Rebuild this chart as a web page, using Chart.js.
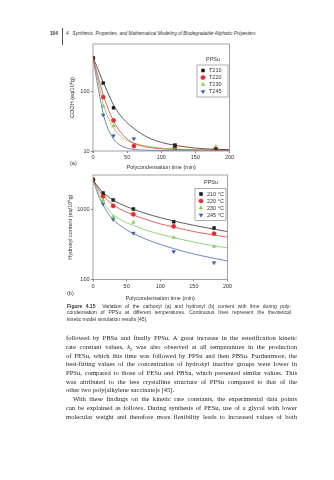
<!DOCTYPE html>
<html>
<head>
<meta charset="utf-8">
<script src="https://cdn.jsdelivr.net/npm/chart.js@4.4.0/dist/chart.umd.min.js"></script>
<style>
body { margin: 0; width: 334px; height: 480px; background: #fff; position: relative; overflow: hidden; font-family: "Liberation Sans", Arial, sans-serif; color: #222; }
.abs { position: absolute; }
.hdr { font-size: 4.7px; line-height: 6px; top: 31px; white-space: nowrap; color: #333; }
.cap { left: 67px; top: 302.6px; width: 224px; font-size: 5px; line-height: 6.7px; color: #333; }
.cap div, .body div { white-space: nowrap; text-align: justify; text-align-last: justify; }
.cap div.last, .body div.last { text-align-last: left; }
.body { left: 66px; top: 334.2px; width: 231px; font-family: "Liberation Serif", "DejaVu Serif", serif; font-size: 6.6px; line-height: 8.7px; color: #222; }
.body div.ind { text-indent: 7px; }
.lab { font-size: 5.5px; color: #333; }
canvas { position: absolute; }
</style>
</head>
<body>

<div class="abs hdr" style="left:50px;font-weight:bold;">104</div>
<div class="abs" style="left:62px;top:28px;width:0.7px;height:17px;background:#555;"></div>
<div class="abs hdr" style="left:66px;font-style:italic;">4&nbsp;&nbsp;&nbsp;Synthesis, Properties, and Mathematical Modeling of Biodegradable Aliphatic Polyesters</div>

<canvas id="chartA" width="170" height="135" style="left:69px;top:38px;"></canvas>
<div class="abs lab" style="left:70px;top:160px;">(a)</div>

<canvas id="chartB" width="170" height="135" style="left:67px;top:168.7px;"></canvas>
<div class="abs lab" style="left:67px;top:290px;">(b)</div>

<div class="abs cap">
  <div><b>Figure 4.15</b>&nbsp;&nbsp;Variation of the carboxyl (a) and hydroxyl (b) content with time during poly-</div>
  <div>condensation of PPSu at different temperatures. Continuous lines represent the theoretical</div>
  <div class="last">kinetic model simulation results [45].</div>
</div>

<div class="abs body">
  <div>followed by PBSu and finally PPSu. A great increase in the esterification kinetic</div>
  <div>rate constant values, <i>k</i><sub style="font-size:4.5px;line-height:0">2</sub> was also observed at all temperatures in the production</div>
  <div>of PESu, which this time was followed by PPSu and then PBSu. Furthermore, the</div>
  <div>best-fitting values of the concentration of hydroxyl inactive groups were lower in</div>
  <div>PPSu, compared to those of PESu and PBSu, which presented similar values. This</div>
  <div>was attributed to the less crystalline structure of PPSu compared to that of the</div>
  <div class="last">other two poly(alkylene succinate)s [45].</div>
  <div class="ind">With these findings on the kinetic rate constants, the experimental data points</div>
  <div>can be explained as follows. During synthesis of PESu, use of a glycol with lower</div>
  <div>molecular weight and therefore more flexibility leads to increased values of both</div>
</div>

<script>
// Times (min) for the model curves and for the measured points
const tCurve = [0, 5, 10, 15, 20, 30, 40, 50, 60, 80, 100, 120, 150, 180, 200];
const tPoints = [0, 15, 30, 60, 120, 180];

// (a) carboxyl content, eq/10^6 g
const curveA210 = [374, 280, 200, 145, 107, 60, 40, 30, 24, 17, 14, 12.5, 11.2, 10.7, 10.5];
const curveA220 = [374, 230, 140, 88, 60, 32, 21, 16, 13.5, 11.6, 10.9, 10.6, 10.4, 10.3, 10.3];
const curveA230 = [374, 205, 112, 63, 42, 25, 18, 15, 13.5, 12, 11.2, 10.8, 10.5, 10.4, 10.3];
const curveA245 = [374, 170, 82, 43, 27, 16, 12.5, 11.2, 10.6, 10.3, 10.2, 10.1, 10.05, 10, 10];
const pointsA210 = [370, 140, 53.7, null, 12.4, 10.5];
const pointsA220 = [370, 81, 32.9, 12.1, 11.4, 10.8];
const pointsA230 = [370, 57, 26.4, null, 11.8, 11.8];
const pointsA245 = [370, 40.5, 18.1, 16.1, 12.8, 10.3];

// (b) hydroxyl content, eq/10^6 g
const curveB210 = [2640, 2250, 1950, 1730, 1580, 1350, 1200, 1090, 1000, 860, 760, 680, 590, 520, 480];
const curveB220 = [2640, 2150, 1800, 1560, 1390, 1160, 1010, 910, 830, 710, 620, 560, 480, 430, 400];
const curveB230 = [2640, 2000, 1600, 1260, 1080, 830, 720, 640, 590, 500, 440, 395, 340, 300, 282];
const curveB245 = [2640, 1900, 1420, 1150, 940, 710, 590, 510, 450, 370, 315, 275, 230, 200, 183];
const pointsB210 = [2640, 1700, 1360, 1010, 665, 540];
const pointsB220 = [2640, 1537, 1116, 847, 570, 448];
const pointsB230 = [2640, 1350, 785, 650, 396, 294];
const pointsB245 = [2640, 1193, 718, 457, 249, 173];

// Axis ticks
const xTicks = [0, 50, 100, 150, 200];
const yTicksA = [10, 100];
const yTicksB = [100, 1000];

const labelsA = ['T210', 'T220', 'T230', 'T245'];
const labelsB = ['210 °C', '220 °C', '230 °C', '245 °C'];

const colors = ['#1a1a1a', '#e5262c', '#86cf5e', '#3c5cab'];
const lineColors = ['#333333', '#e23a3a', '#7cc85a', '#4a68b5'];
const markers = [
    { style: 'rect', rot: 0 },
    { style: 'circle', rot: 0 },
    { style: 'triangle', rot: 0 },
    { style: 'triangle', rot: 180 }
];

function pairs(xs, ys) {
    return xs.map((x, i) => ({ x: x, y: ys[i] })).filter(p => p.y !== null);
}

// frame around the plot area
const framePlugin = {
    id: 'frame',
    afterDraw(chart) {
        const a = chart.chartArea;
        const ctx = chart.ctx;
        ctx.save();
        ctx.strokeStyle = '#8a8a8a';
        ctx.lineWidth = 0.8;
        ctx.strokeRect(a.left, a.top, a.right - a.left, a.bottom - a.top);
        ctx.restore();
    }
};

// boxed legend inside the plot, with the "PPSu" heading
const boxLegend = {
    id: 'boxLegend',
    afterDatasetsDraw(chart, args, opts) {
        const a = chart.chartArea;
        const ctx = chart.ctx;
        const w = 31, step = 7;
        const left = a.right - 1.5 - w;
        const top = a.top + opts.offset;
        ctx.save();
        ctx.font = '5.5px "Liberation Sans", Arial, sans-serif';
        ctx.fillStyle = '#333';
        ctx.textBaseline = 'middle';
        ctx.fillText(opts.title, left + 9, top - 6);
        ctx.strokeStyle = '#777';
        ctx.lineWidth = 0.6;
        ctx.strokeRect(left, top, w, step * opts.labels.length + 4);
        opts.labels.forEach((lab, i) => {
            const y = top + 5.5 + i * step;
            ctx.fillStyle = colors[i];
            ctx.strokeStyle = colors[i];
            Chart.helpers.drawPoint(ctx, { pointStyle: markers[i].style, radius: 2.1, rotation: markers[i].rot, borderWidth: 0.5 }, left + 6, y);
            ctx.fillStyle = '#333';
            ctx.fillText(lab, left + 12, y + 0.3);
        });
        ctx.restore();
    }
};

function makeChart(id, curves, points, yMin, yMax, yTicks, yTitle, labels, legendOffset, bottomGap, yWidth) {
    const datasets = [];
    curves.forEach((c, i) => {
        datasets.push({
            type: 'line',
            data: pairs(tCurve, c),
            borderColor: lineColors[i],
            borderWidth: 0.8,
            pointRadius: 0,
            cubicInterpolationMode: 'monotone',
            fill: false
        });
    });
    points.forEach((p, i) => {
        datasets.push({
            type: 'scatter',
            data: pairs(tPoints, p),
            backgroundColor: colors[i],
            borderColor: colors[i],
            borderWidth: 0.5,
            pointStyle: markers[i].style,
            rotation: markers[i].rot,
            pointRadius: 2.1
        });
    });

    const font = { family: '"Liberation Sans", Arial, sans-serif', size: 5.5 };

    return new Chart(document.getElementById(id), {
        type: 'scatter',
        data: { datasets: datasets },
        options: {
            responsive: false,
            animation: false,
            layout: { padding: { left: 0, right: 9.5, top: 6, bottom: 0 } },
            plugins: {
                legend: { display: false },
                tooltip: { enabled: false },
                boxLegend: { title: 'PPSu', labels: labels, offset: legendOffset }
            },
            scales: {
                x: {
                    type: 'linear',
                    min: 0,
                    max: 200,
                    afterBuildTicks: s => { s.ticks = xTicks.map(v => ({ value: v })); },
                    afterFit: s => { s.height = bottomGap; },
                    grid: { display: true, drawOnChartArea: false, tickLength: 2, color: '#8a8a8a' },
                    border: { display: false },
                    ticks: { font: font, color: '#333', padding: 1.5, maxRotation: 0 },
                    title: { display: true, text: 'Polycondensation time (min)', font: font, color: '#333', padding: { top: 0, bottom: 2 } }
                },
                y: {
                    type: 'logarithmic',
                    min: yMin,
                    max: yMax,
                    afterBuildTicks: s => { s.ticks = yTicks.map(v => ({ value: v, major: true })); },
                    afterFit: s => { s.width = yWidth; },
                    grid: { display: true, drawOnChartArea: false, tickLength: 2, color: '#8a8a8a' },
                    border: { display: false },
                    ticks: { font: font, color: '#333', padding: 1.5, callback: v => String(v) },
                    title: { display: true, text: yTitle, font: font, color: '#333', padding: { top: 0, bottom: 0 } }
                }
            }
        },
        plugins: [framePlugin, boxLegend]
    });
}

makeChart('chartA',
    [curveA210, curveA220, curveA230, curveA245],
    [pointsA210, pointsA220, pointsA230, pointsA245],
    10, 640, yTicksA, 'COOH (eq/10\u2076g)', labelsA, 21, 22, 24);

makeChart('chartB',
    [curveB210, curveB220, curveB230, curveB245],
    [pointsB210, pointsB220, pointsB230, pointsB245],
    100, 3080, yTicksB, 'Hydroxyl content (eq/10\u2076g)', labelsB, 13.5, 24.6, 26);
</script>
</body>
</html>
